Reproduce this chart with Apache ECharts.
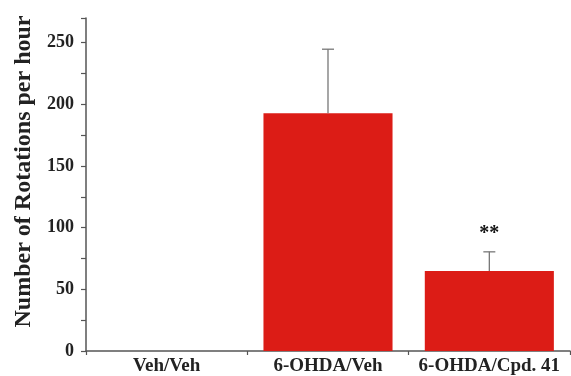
<!DOCTYPE html>
<html><head><meta charset="utf-8">
<script src="https://cdn.jsdelivr.net/npm/echarts@6/dist/echarts.min.js"></script>
<style>html,body{margin:0;padding:0;background:#fff}#c{width:571px;height:376px}</style>
</head><body><div id="c"></div>
<script>
const categories = ['Veh/Veh', '6-OHDA/Veh', '6-OHDA/Cpd. 41'];
const means = [0, 192.7, 64.9];
const errors = [0, 52, 15.5];
const marks = ['', '', '**'];
const yTicks = [0, 50, 100, 150, 200, 250];

const font = 'Liberation Serif';
const chart = echarts.init(document.getElementById('c'));
chart.setOption({
  animation: false,
  grid: {left: 86, right: 1, top: 18, bottom: 25},
  xAxis: {
    type: 'category', data: categories,
    axisLine: {lineStyle: {color: '#555', width: 1.5}},
    axisTick: {show: true, length: 4, inside: false, lineStyle: {color: '#555', width: 1.2}},
    axisLabel: {interval: 0, hideOverlap: false, color: '#222', fontFamily: font, fontWeight: 'bold', fontSize: 19, margin: 6}
  },
  yAxis: {
    type: 'value', min: 0, max: 270, interval: 25,
    name: 'Number of Rotations per hour', nameLocation: 'middle', nameGap: 50,
    nameTextStyle: {color: '#222', fontFamily: font, fontWeight: 'bold', fontSize: 24, padding: [0, 0, 0, 26]},
    axisLine: {show: true, lineStyle: {color: '#555', width: 1.5}},
    axisTick: {show: true, length: 5, lineStyle: {color: '#555', width: 1.2}},
    splitLine: {show: false},
    axisLabel: {color: '#222', fontFamily: font, fontWeight: 'bold', fontSize: 18, margin: 12,
      formatter: v => yTicks.includes(v) ? String(v) : ''}
  },
  series: [
    {type: 'bar', data: means, barWidth: '80%', itemStyle: {color: '#dc1c16'}},
    {type: 'custom', data: categories.map((c, i) => [i, means[i], errors[i]]),
      z: 5,
      renderItem: (params, api) => {
        const i = api.value(0), m = api.value(1), e = api.value(2);
        const mark = marks[i];
        if (!e) return null;
        const p0 = api.coord([i, m]), p1 = api.coord([i, m + e]);
        const hw = 6;
        const children = [
          {type: 'line', shape: {x1: p0[0], y1: p0[1], x2: p1[0], y2: p1[1]}, style: {stroke: '#777', lineWidth: 1.3}},
          {type: 'line', shape: {x1: p1[0] - hw, y1: p1[1], x2: p1[0] + hw, y2: p1[1]}, style: {stroke: '#777', lineWidth: 1.3}}
        ];
        if (mark) children.push({type: 'text', x: p1[0], y: p1[1] - 18,
          style: {text: mark, fill: '#111', font: 'bold 20px "Liberation Serif"', align: 'center', verticalAlign: 'middle'}});
        return {type: 'group', children};
      }
    }
  ]
});
</script></body></html>
